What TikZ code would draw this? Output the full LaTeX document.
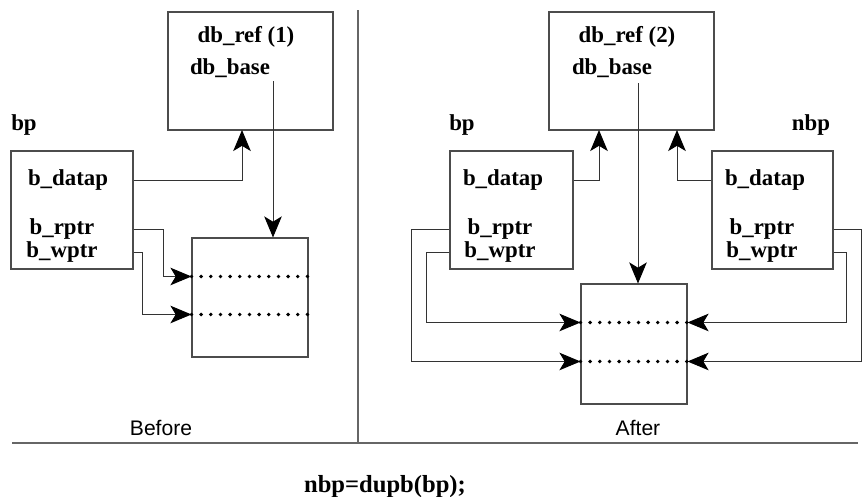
\documentclass[tikz,border=0pt]{standalone}
\usepackage{fontspec}
\setmainfont{Liberation Serif}
\setsansfont{Liberation Sans}
\usetikzlibrary{arrows.meta}

\newcommand{\fieldfont}{\bfseries\fontsize{13}{15}\selectfont}
\tikzset{
  box/.style={draw=black!70, line width=0.6pt, inner sep=0pt},
  field/.style={font=\fieldfont, inner sep=0pt},
  caption/.style={font=\sffamily\fontsize{12}{14}\selectfont, inner sep=0pt},
  ptr/.style={-{Stealth[length=12pt,width=10pt,inset=3pt,black]}, draw=black!80, line width=0.55pt},
  slotline/.style={line width=2.2pt, dash pattern=on 0pt off 5.5pt, line cap=round},
  rule/.style={draw=black!60, line width=0.7pt}
}

\begin{document}
\begin{tikzpicture}[x=0.02cm,y=-0.02cm]
    \useasboundingbox (0,0) rectangle (867,497);
    % before
    \node[box, minimum width=3.3cm, minimum height=2.36cm] (refL) at (250.5,71) {};
    \node[box, minimum width=2.44cm, minimum height=2.36cm] (bpL) at (72,210) {};
    \node[box, minimum width=2.32cm, minimum height=2.38cm] (dataL) at (250,297.5) {};
    \node[field] (titleL) at (246,37) {db\_ref (1)};
    \node[field] (baseL) at (230,68) {db\_base};
    \node[field] (nameL) at (24,125) {bp};
    \node[field] (datapL) at (68,180) {b\_datap};
    \node[field] (rptrL) at (62,229) {b\_rptr};
    \node[field] (wptrL) at (62,252) {b\_wptr};
    \path (dataL.north west) ++(0,39) coordinate (slotL1) ++(0,38) coordinate (slotL2);
    \coordinate (refinL) at (242,130);
    \coordinate (baseoutL) at (273,81);
    \draw[slotline] (slotL1) -- (slotL1 -| dataL.east);
    \draw[slotline] (slotL2) -- (slotL2 -| dataL.east);
    \draw[ptr] (bpL.east |- datapL) -| (refinL);
    \draw[ptr] (baseoutL) -- (baseoutL |- dataL.north);
    \draw[ptr] (bpL.east |- rptrL) -- ++(30,0) |- (slotL1);
    \draw[ptr] (bpL.east |- wptrL) -- ++(9,0) |- (slotL2);
    \node[caption] (before) at (161,428) {Before};

    % after
    \node[box, minimum width=3.3cm, minimum height=2.36cm] (refR) at (631.5,71) {};
    \node[box, minimum width=2.46cm, minimum height=2.36cm] (bpR) at (511.5,210) {};
    \node[box, minimum width=2.42cm, minimum height=2.36cm] (nbpR) at (772.5,210) {};
    \node[box, minimum width=2.12cm, minimum height=2.4cm] (dataR) at (634,344) {};
    \node[field] (titleR) at (627,37) {db\_ref (2)};
    \node[field] (baseR) at (612,68) {db\_base};
    \node[field] (nameR) at (462,125) {bp};
    \node[field] (nameN) at (811,125) {nbp};
    \node[field] (datapR) at (503,180) {b\_datap};
    \node[field] (rptrR) at (500,229) {b\_rptr};
    \node[field] (wptrR) at (500,252) {b\_wptr};
    \node[field] (datapN) at (765,180) {b\_datap};
    \node[field] (rptrN) at (762,229) {b\_rptr};
    \node[field] (wptrN) at (762,252) {b\_wptr};
    \path (dataR.north west) ++(0,39) coordinate (slotR1) ++(0,39) coordinate (slotR2);
    \coordinate (slotR1e) at (slotR1 -| dataR.east);
    \coordinate (slotR2e) at (slotR2 -| dataR.east);
    \coordinate (refinR) at (599,130);
    \coordinate (refinN) at (677,130);
    \coordinate (baseoutR) at (638,83);
    \draw[slotline] (slotR1) -- (slotR1e);
    \draw[slotline] (slotR2) -- (slotR2e);
    \draw[ptr] (bpR.east |- datapR) -| (refinR);
    \draw[ptr] (nbpR.west |- datapN) -| (refinN);
    \draw[ptr] (baseoutR) -- (baseoutR |- dataR.north);
    \draw[ptr] (bpR.west |- rptrR) -- ++(-38,0) |- (slotR2);
    \draw[ptr] (bpR.west |- wptrR) -- ++(-23,0) |- (slotR1);
    \draw[ptr] (nbpR.east |- rptrN) -- ++(28,0) |- (slotR2e);
    \draw[ptr] (nbpR.east |- wptrN) -- ++(13,0) |- (slotR1e);
    \node[caption] (after) at (638,428) {After};

    % frame and call
    \draw[rule] (358,10) -- (358,443);
    \draw[rule] (12,443) -- (858,443);
    \node[field, font=\bfseries\fontsize{14}{16}\selectfont] (call) at (385,487) {nbp=dupb(bp);};
\end{tikzpicture}
\end{document}
